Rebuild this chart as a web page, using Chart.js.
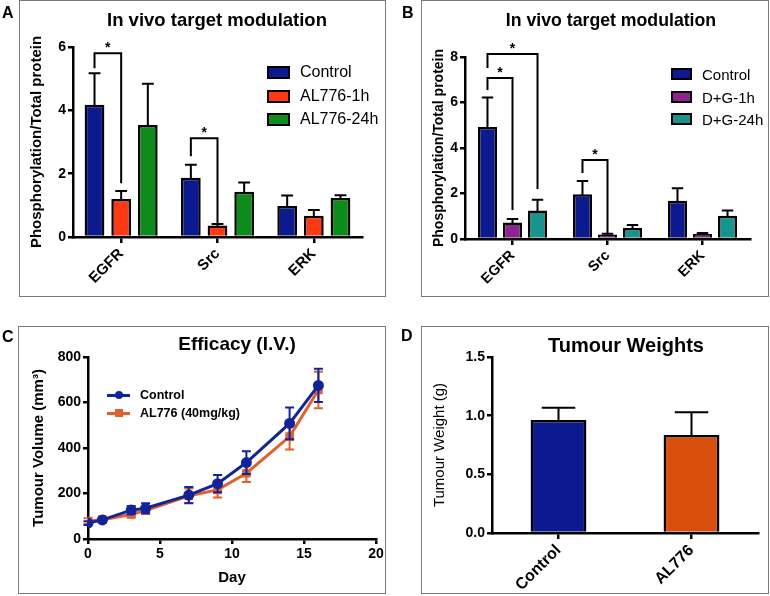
<!DOCTYPE html>
<html><head><meta charset="utf-8">
<script src="https://cdn.jsdelivr.net/npm/chart.js@4.4.0/dist/chart.umd.min.js"></script>
<style>
html,body{margin:0;padding:0;background:#fff;}
#page{position:relative;width:770px;height:596px;overflow:hidden;font-family:"Liberation Sans",Arial,Helvetica,sans-serif;}
canvas{position:absolute;left:0;top:0;}
.box{position:absolute;border:1.5px solid #7a7a7a;box-sizing:border-box;}
.t{position:absolute;white-space:nowrap;line-height:1;color:#000;}
.sw{position:absolute;box-sizing:border-box;border:2px solid #000;}
</style></head><body><div id="page">
<div class="box" style="left:19px;top:0px;width:367px;height:297px"></div>
<div class="box" style="left:421px;top:0px;width:348px;height:297px"></div>
<div class="box" style="left:18px;top:326px;width:368px;height:268px"></div>
<div class="box" style="left:421px;top:326px;width:348px;height:268px"></div>
<canvas id="cA" width="770" height="596"></canvas>
<canvas id="cB" width="770" height="596"></canvas>
<canvas id="cC" width="770" height="596"></canvas>
<canvas id="cD" width="770" height="596"></canvas>
</div>
<script>
// ---------- DATA ----------
const categoriesA = ['EGFR', 'Src', 'ERK'];
const seriesA = ['Control', 'AL776-1h', 'AL776-24h'];
const controlA = [4.18, 1.87, 0.98];
const controlAErr = [0.99, 0.41, 0.33];
const al1hA = [1.2, 0.36, 0.67];
const al1hAErr = [0.25, 0.05, 0.18];
const al24hA = [3.54, 1.43, 1.23];
const al24hAErr = [1.3, 0.29, 0.09];
const bracketsA = [
  {cat: 0, from: 0, to: 1, left: 5.33, top: 5.8, right: 1.7},
  {cat: 1, from: 0, to: 1, left: 2.55, top: 3.12, right: 0.38}
];

const categoriesB = ['EGFR', 'Src', 'ERK'];
const seriesB = ['Control', 'D+G-1h', 'D+G-24h'];
const controlB = [4.92, 1.97, 1.68];
const controlBErr = [1.3, 0.58, 0.55];
const dg1hB = [0.72, 0.2, 0.22];
const dg1hBErr = [0.16, 0.03, 0.04];
const dg24hB = [1.25, 0.48, 1.02];
const dg24hBErr = [0.47, 0.13, 0.23];
const bracketsB = [
  {cat: 0, from: 0, to: 2, left: 7.52, top: 8.13, right: 2.2},
  {cat: 0, from: 0, to: 1, left: 6.55, top: 7.08, right: 1.27},
  {cat: 1, from: 0, to: 1, left: 2.9, top: 3.47, right: 0.26}
];

const daysC = [0, 1, 3, 4, 7, 9, 11, 14, 16];
const seriesC = ['Control', 'AL776 (40mg/kg)'];
const controlC = [70, 84, 127, 135, 193, 243, 336, 508, 675];
const controlCErr = [8, 8, 18, 22, 36, 38, 50, 70, 73];
const al776C = [79, 85, 108, 125, 190, 216, 289, 450, 655];
const al776CErr = [12, 8, 12, 15, 32, 34, 38, 57, 80];

const categoriesD = ['Control', 'AL776'];
const weightsD = [0.963, 0.835];
const weightsDErr = [0.105, 0.195];

// ---------- STYLE ----------
const F = '"Liberation Sans", Arial, Helvetica, sans-serif';
const colorsA = ['#0b1b8f', '#ff3a12', '#0d8c1a'];
const colorsB = ['#0b1b8f', '#8e2390', '#16958f'];
const colorsC = ['#12249a', '#e4602a'];
const colorsD = ['#0b1b8f', '#d9500c'];
const page = document.getElementById('page');

function addText(txt, x, baseline, size, weight, align) {
  const d = document.createElement('div');
  d.className = 't';
  d.textContent = txt;
  d.style.fontSize = size + 'px';
  d.style.fontWeight = weight;
  d.style.top = (baseline - 0.8465 * size) + 'px';
  d.style.left = x + 'px';
  if (align === 'center') d.style.transform = 'translateX(-50%)';
  page.appendChild(d);
}
function addBoxLegend(names, colors, left, w, h, textLeft, rows, size) {
  names.forEach((n, i) => {
    const s = document.createElement('div');
    s.className = 'sw';
    s.style.left = left + 'px'; s.style.top = (rows[i] - h / 2) + 'px';
    s.style.width = w + 'px'; s.style.height = h + 'px';
    s.style.background = colors[i];
    page.appendChild(s);
    addText(n, textLeft, rows[i] + 0.358 * size, size, 'normal', 'left');
  });
}

const barExtras = {
  id: 'barExtras',
  afterDatasetsDraw(chart, args, opts) {
    const ctx = chart.ctx, y = chart.scales.y;
    ctx.save();
    ctx.strokeStyle = '#000';
    ctx.lineWidth = 2;
    ctx.lineCap = 'butt';
    chart.data.datasets.forEach((ds, i) => {
      const meta = chart.getDatasetMeta(i);
      meta.data.forEach((bar, j) => {
        const v = ds.data[j], e = ds.errors[j];
        const yb = y.getPixelForValue(v) + 1;
        const yt = y.getPixelForValue(v + e);
        const half = bar.width * opts.capFrac / 2;
        ctx.beginPath();
        ctx.moveTo(bar.x, yb); ctx.lineTo(bar.x, yt);
        ctx.moveTo(bar.x - half, yt); ctx.lineTo(bar.x + half, yt);
        ctx.stroke();
      });
    });
    (opts.brackets || []).forEach(b => {
      const x1 = chart.getDatasetMeta(b.from).data[b.cat].x;
      const x2 = chart.getDatasetMeta(b.to).data[b.cat].x;
      const yl = y.getPixelForValue(b.left), yt = y.getPixelForValue(b.top), yr = y.getPixelForValue(b.right);
      ctx.beginPath();
      ctx.moveTo(x1, yl); ctx.lineTo(x1, yt); ctx.lineTo(x2, yt); ctx.lineTo(x2, yr);
      ctx.stroke();
      ctx.fillStyle = '#000';
      ctx.font = 'bold 14px ' + F;
      ctx.textAlign = 'center';
      ctx.textBaseline = 'alphabetic';
      ctx.fillText('*', (x1 + x2) / 2, yt - 1);
    });
    ctx.restore();
  }
};

const lineErrors = {
  id: 'lineErrors',
  afterDatasetDraw(chart, args) {
    const ds = chart.data.datasets[args.index];
    const ctx = chart.ctx, y = chart.scales.y;
    ctx.save();
    ctx.strokeStyle = ds.borderColor;
    ctx.lineWidth = 2;
    args.meta.data.forEach((pt, j) => {
      const v = ds.data[j].y, e = ds.errors[j];
      const y1 = y.getPixelForValue(v + e), y2 = y.getPixelForValue(v - e);
      ctx.beginPath();
      ctx.moveTo(pt.x, y1); ctx.lineTo(pt.x, y2);
      ctx.moveTo(pt.x - 4.5, y1); ctx.lineTo(pt.x + 4.5, y1);
      ctx.moveTo(pt.x - 4.5, y2); ctx.lineTo(pt.x + 4.5, y2);
      ctx.stroke();
    });
    ctx.restore();
  }
};

function yAxis(min, max, step, title, tSize, tWeight, width, fmt) {
  return {
    type: 'linear', min: min, max: max,
    ticks: {stepSize: step, color: '#000', font: {family: F, size: 14, weight: 'bold'}, padding: 2,
            callback: fmt || (v => v)},
    border: {display: true, color: '#000', width: 2.5},
    grid: {drawOnChartArea: false, drawTicks: true, tickLength: 5, color: '#000', lineWidth: 2.5},
    title: {display: true, text: title, color: '#000', font: {family: F, size: tSize, weight: tWeight}, padding: 0},
    afterFit(s) { s.width = width; }
  };
}
function xCat(height, size) {
  return {
    type: 'category', offset: true,
    ticks: {color: '#000', font: {family: F, size: size, weight: 'bold'}, minRotation: 45, maxRotation: 45, autoSkip: false, padding: 2},
    border: {display: true, color: '#000', width: 2.5},
    grid: {offset: false, drawOnChartArea: false, drawTicks: true, tickLength: 6, color: '#000', lineWidth: 2.5},
    afterFit(s) { s.height = height; }
  };
}
const common = {
  responsive: false, animation: false, events: [],
  plugins: {legend: {display: false}, tooltip: {enabled: false}, title: {display: false}}
};
function barSets(names, colors, vals, errs, cp, bp) {
  return names.map((n, i) => ({
    label: n, data: vals[i], errors: errs[i], backgroundColor: colors[i],
    borderColor: '#000', borderWidth: 2.5, categoryPercentage: cp, barPercentage: bp
  }));
}

// ---------- PANEL A ----------
new Chart(document.getElementById('cA'), {
  type: 'bar',
  data: {labels: categoriesA, datasets: barSets(seriesA, colorsA, [controlA, al1hA, al24hA], [controlAErr, al1hAErr, al24hAErr], 0.83, 0.74)},
  options: Object.assign({}, common, {
    layout: {padding: {left: 28, top: 47, right: 408, bottom: 299}},
    scales: {x: xCat(60, 15), y: yAxis(0, 6, 2, 'Phosphorylation/Total protein', 15, 'bold', 45)},
    plugins: Object.assign({}, common.plugins, {barExtras: {brackets: bracketsA, capFrac: 0.6}})
  }),
  plugins: [barExtras]
});

// ---------- PANEL B ----------
new Chart(document.getElementById('cB'), {
  type: 'bar',
  data: {labels: categoriesB, datasets: barSets(seriesB, colorsB, [controlB, dg1hB, dg24hB], [controlBErr, dg1hBErr, dg24hBErr], 0.79, 0.76)},
  options: Object.assign({}, common, {
    layout: {padding: {left: 431, top: 57, right: 20, bottom: 297}},
    scales: {x: xCat(60, 14.5), y: yAxis(0, 8, 2, 'Phosphorylation/Total protein', 14, 'bold', 34)},
    plugins: Object.assign({}, common.plugins, {barExtras: {brackets: bracketsB, capFrac: 0.6}})
  }),
  plugins: [barExtras]
});

// ---------- PANEL C ----------
new Chart(document.getElementById('cC'), {
  type: 'line',
  data: {datasets: [
    {label: seriesC[0], data: daysC.map((d, i) => ({x: d, y: controlC[i]})), errors: controlCErr,
     borderColor: colorsC[0], backgroundColor: colorsC[0], borderWidth: 3, pointRadius: 4, pointStyle: 'circle', tension: 0},
    {label: seriesC[1], data: daysC.map((d, i) => ({x: d, y: al776C[i]})), errors: al776CErr,
     borderColor: colorsC[1], backgroundColor: colorsC[1], borderWidth: 3, pointRadius: 4, pointStyle: 'rect', tension: 0}
  ]},
  options: Object.assign({}, common, {
    layout: {padding: {left: 30, top: 357, right: 394, bottom: 9}},
    scales: {
      x: {type: 'linear', min: 0, max: 20,
          ticks: {stepSize: 5, color: '#000', font: {family: F, size: 14, weight: 'bold'}, padding: 2},
          border: {display: true, color: '#000', width: 2.5},
          grid: {drawOnChartArea: false, drawTicks: true, tickLength: 5, color: '#000', lineWidth: 2.5},
          title: {display: true, text: 'Day', color: '#000', font: {family: F, size: 15, weight: 'bold'}, padding: 0},
          afterFit(s) { s.height = 48; }},
      y: yAxis(0, 800, 200, 'Tumour Volume (mm³)', 15, 'bold', 58)
    }
  }),
  plugins: [lineErrors]
});

// ---------- PANEL D ----------
new Chart(document.getElementById('cD'), {
  type: 'bar',
  data: {labels: categoriesD, datasets: [{label: 'Tumour Weight', data: weightsD, errors: weightsDErr,
    backgroundColor: colorsD, borderColor: '#000', borderWidth: 2.5, categoryPercentage: 1, barPercentage: 0.42}]},
  options: Object.assign({}, common, {
    layout: {padding: {left: 431, top: 357, right: 12, bottom: 0}},
    scales: {x: xCat(63, 16), y: yAxis(0, 1.5, 0.5, 'Tumour Weight (g)', 15, 'normal', 61, v => Number(v).toFixed(1))},
    plugins: Object.assign({}, common.plugins, {barExtras: {brackets: [], capFrac: 0.6}})
  }),
  plugins: [barExtras]
});

// ---------- TEXT / LEGENDS ----------
addText('A', 2, 19, 16, 'bold', 'left');
addText('B', 402, 19, 16, 'bold', 'left');
addText('C', 2, 343, 16, 'bold', 'left');
addText('D', 401, 342, 16, 'bold', 'left');
addText('In vivo target modulation', 217, 26.5, 18.5, 'bold', 'center');
addText('In vivo target modulation', 611, 26.5, 17.7, 'bold', 'center');
addText('Efficacy (I.V.)', 237, 350.5, 19, 'bold', 'center');
addText('Tumour Weights', 626, 351.5, 20, 'bold', 'center');
addBoxLegend(seriesA, colorsA, 267, 23, 13, 300, [72, 96, 119], 16);
addBoxLegend(seriesB, colorsB, 671, 21, 12, 702, [74, 97, 119], 15);
// legend C
[395, 413].forEach((yy, i) => {
  const ln = document.createElement('div');
  ln.style.cssText = 'position:absolute;left:107px;width:23px;height:3px;top:' + (yy - 1.5) + 'px;background:' + colorsC[i];
  page.appendChild(ln);
  const mk = document.createElement('div');
  mk.style.cssText = 'position:absolute;left:114.5px;width:8px;height:8px;top:' + (yy - 4) + 'px;background:' + colorsC[i] + (i === 0 ? ';border-radius:50%' : '');
  page.appendChild(mk);
  addText(seriesC[i], 140, yy + 0.358 * 12.5, 12.5, 'bold', 'left');
});
</script></body></html>
